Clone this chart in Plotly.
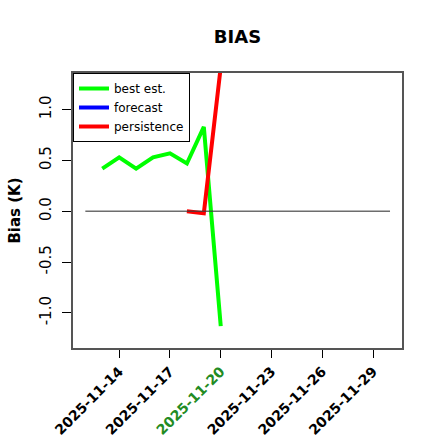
import plotly.graph_objects as go

# best estimate bias per day
best_dates = ["2025-11-13", "2025-11-14", "2025-11-15", "2025-11-16",
              "2025-11-17", "2025-11-18", "2025-11-19", "2025-11-20"]
best_bias = [0.42, 0.53, 0.42, 0.53, 0.57, 0.47, 0.83, -1.13]

# forecast has no values yet
fc_dates = []
fc_bias = []

# persistence bias
pers_dates = ["2025-11-18", "2025-11-19", "2025-11-20"]
pers_bias = [0.0, -0.02, 1.42]

# reference line at zero
zero_dates = ["2025-11-12", "2025-11-30"]
zero_vals = [0, 0]

tick_dates = ["2025-11-14", "2025-11-17", "2025-11-20", "2025-11-23", "2025-11-26", "2025-11-29"]
today = "2025-11-20"
y_ticks = [-1.0, -0.5, 0.0, 0.5, 1.0]

tick_text = [f'<span style="color:#228B22">{d}</span>' if d == today else d for d in tick_dates]

fig = go.Figure()

fig.add_trace(go.Scatter(x=best_dates, y=best_bias, mode='lines', name='best est.',
                         line=dict(color='#00FF00', width=4)))
fig.add_trace(go.Scatter(x=fc_dates if fc_dates else [None], y=fc_bias if fc_bias else [None],
                         mode='lines', name='forecast', line=dict(color='#0000FF', width=4)))
fig.add_trace(go.Scatter(x=pers_dates, y=pers_bias, mode='lines', name='persistence',
                         line=dict(color='#FF0000', width=4)))
fig.add_trace(go.Scatter(x=zero_dates, y=zero_vals, mode='lines', showlegend=False,
                         line=dict(color='rgba(60,60,60,0.75)', width=1.5)))

fig.update_layout(
    width=440, height=440,
    margin=dict(l=73, r=38, t=73, b=92, autoexpand=False),
    paper_bgcolor='white', plot_bgcolor='white',
    font=dict(family='DejaVu Sans', color='black'),
    title=dict(text='<b>BIAS</b>', x=0.5, xref='paper', xanchor='center', y=1 - 37 / 440,
               yanchor='middle', yref='container', font=dict(size=18)),
    legend=dict(x=0, y=1, xanchor='left', yanchor='top', bgcolor='white',
                bordercolor='black', borderwidth=1, font=dict(size=12),
                itemwidth=30),
    showlegend=True,
)

fig.update_xaxes(
    type='date', range=["2025-11-11 06:30", "2025-11-30 17:00"],
    tickvals=tick_dates, ticktext=tick_text, tickangle=-45,
    tickfont=dict(size=14, weight='bold'),
    ticks='outside', ticklen=8, tickcolor='black',
    showgrid=False, zeroline=False, automargin=False,
    showline=True, mirror=True, linecolor='#555555', linewidth=1.5,
)
fig.update_yaxes(
    range=[-1.345, 1.36],
    tickvals=y_ticks, ticktext=[f'{v:.1f}' for v in y_ticks], tickangle=-90,
    tickfont=dict(size=15), ticklabelstandoff=5,
    ticks='outside', ticklen=9, tickcolor='black',
    showgrid=False, zeroline=False, automargin=False,
    showline=True, mirror=True, linecolor='#555555', linewidth=1.5,
    title=dict(text='<b>Bias (K)</b>', font=dict(size=15), standoff=13),
)

# page body has a default 8px margin; drop it so the figure sits at the window corner
fig.write_html("out.html", config={'displayModeBar': False},
               post_script="document.body.style.margin='0';")
